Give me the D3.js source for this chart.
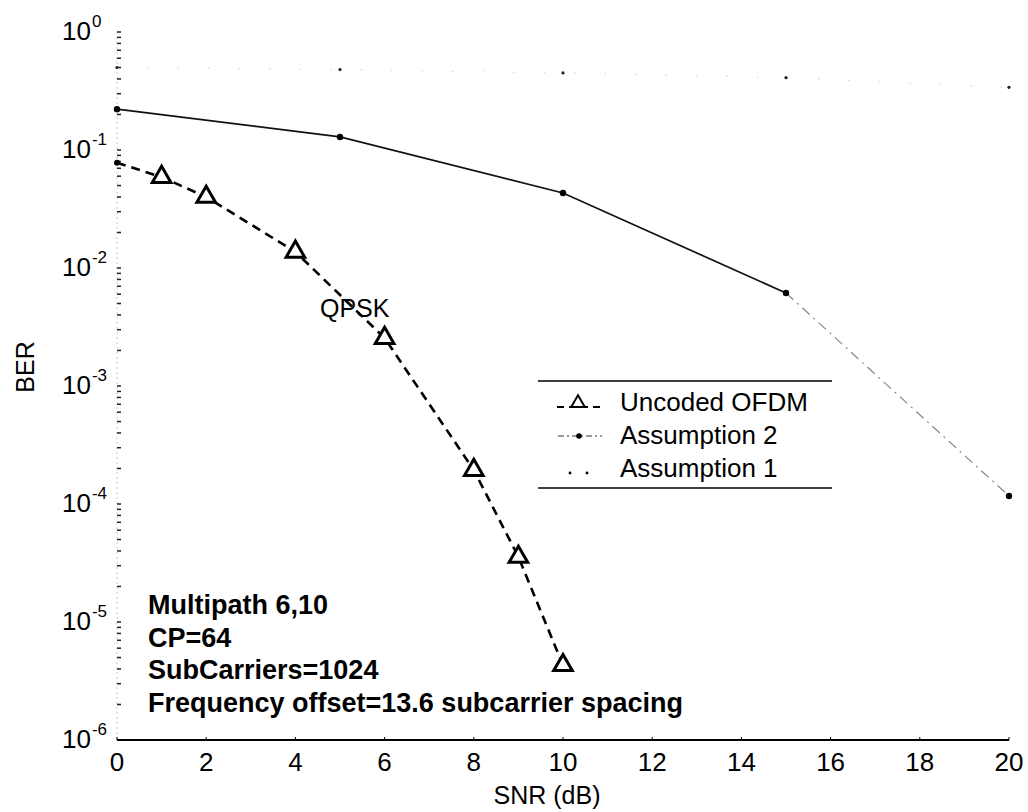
<!DOCTYPE html>
<html>
<head>
<meta charset="utf-8">
<script src="https://cdn.jsdelivr.net/npm/d3@7"></script>
<style>
  body { margin: 0; background: #fff; }
  text { font-family: "Liberation Sans", Arial, sans-serif; fill: #000; }
</style>
</head>
<body>
<div id="chart-container"></div>
<script>
// data
const snrUncoded = [0, 1, 2, 4, 6, 8, 9, 10];
const berUncoded = [0.078, 0.059, 0.040, 0.0137, 0.00255, 1.94e-4, 3.56e-5, 4.3e-6];

const snrAssumption = [0, 5, 10, 15, 20];
const berAssumption2 = [0.222, 0.129, 0.0432, 0.00614, 1.17e-4];
const berAssumption1 = [0.5, 0.48, 0.45, 0.41, 0.34];

const xTicks = [0, 2, 4, 6, 8, 10, 12, 14, 16, 18, 20];
const yExponents = [0, -1, -2, -3, -4, -5, -6];

const legendLabels = ["Uncoded OFDM", "Assumption 2", "Assumption 1"];
const notes = [
  "Multipath 6,10",
  "CP=64",
  "SubCarriers=1024",
  "Frequency offset=13.6 subcarrier spacing",
];

const width = 1028;
const height = 812;

const svg = d3
  .select("#chart-container")
  .append("svg")
  .attr("width", width)
  .attr("height", height);

// scales
const x = d3.scaleLinear().domain([0, 20]).range([117, 1009]);
const y = d3.scaleLog().domain([1, 1e-6]).range([32, 740]);

//#region AXES
// y axis line (very faint in the scan) + log ticks
svg
  .append("line")
  .attr("x1", x(0))
  .attr("x2", x(0))
  .attr("y1", y(1))
  .attr("y2", y(1e-6))
  .attr("stroke", "#c8c8c8")
  .attr("stroke-width", 1)
  .attr("stroke-dasharray", "2,3");

svg
  .selectAll(".ytick")
  .data(y.ticks())
  .enter()
  .append("line")
  .attr("x1", x(0))
  .attr("x2", x(0) + 4)
  .attr("y1", (d) => y(d))
  .attr("y2", (d) => y(d))
  .attr("stroke", "#222")
  .attr("stroke-width", 1.5);

// y tick labels 10^k
const yLab = svg
  .selectAll(".ylab")
  .data(yExponents)
  .enter()
  .append("text")
  .attr("x", 62)
  .attr("y", (d) => y(Math.pow(10, d)) + 8)
  .style("font-size", "26px");
yLab.append("tspan").text("10");
yLab
  .append("tspan")
  .attr("dy", -13)
  .attr("dx", 1)
  .style("font-size", "17px")
  .text((d) => d);

// x axis
svg
  .append("line")
  .attr("x1", x(0))
  .attr("x2", x(20))
  .attr("y1", y(1e-6))
  .attr("y2", y(1e-6))
  .attr("stroke", "#000")
  .attr("stroke-width", 2);

svg
  .selectAll(".xtick")
  .data(xTicks)
  .enter()
  .append("line")
  .attr("x1", (d) => x(d))
  .attr("x2", (d) => x(d))
  .attr("y1", y(1e-6))
  .attr("y2", y(1e-6) - 3)
  .attr("stroke", "#000")
  .attr("stroke-width", 1);

svg
  .selectAll(".xlab")
  .data(xTicks)
  .enter()
  .append("text")
  .attr("x", (d) => x(d))
  .attr("y", y(1e-6) + 31)
  .attr("text-anchor", "middle")
  .style("font-size", "26px")
  .text((d) => d);

svg
  .append("text")
  .attr("x", 547)
  .attr("y", 804)
  .attr("text-anchor", "middle")
  .style("font-size", "25px")
  .text("SNR (dB)");

svg
  .append("text")
  .attr("transform", "translate(34,367) rotate(-90)")
  .attr("text-anchor", "middle")
  .style("font-size", "25px")
  .text("BER");
//#endregion

//#region SERIES
const line = d3
  .line()
  .x((d) => x(d[0]))
  .y((d) => y(d[1]));

const uncoded = d3.zip(snrUncoded, berUncoded);
const assump2 = d3.zip(snrAssumption, berAssumption2);
const assump1 = d3.zip(snrAssumption, berAssumption1);

// Assumption 1 : dotted, almost vanished in the scan
svg
  .append("path")
  .attr("d", line(assump1))
  .attr("fill", "none")
  .attr("stroke", "#d4d4d4")
  .attr("stroke-width", 1.2)
  .attr("stroke-linecap", "round")
  .attr("stroke-dasharray", "0.5,30");

svg
  .selectAll(".a1dot")
  .data(assump1)
  .enter()
  .append("circle")
  .attr("cx", (d) => x(d[0]))
  .attr("cy", (d) => y(d[1]))
  .attr("r", 1.6)
  .attr("fill", "#222");

// Assumption 2 : solid up to 15 dB, then faint dash-dot
svg
  .append("path")
  .attr("d", line(assump2.slice(0, 4)))
  .attr("fill", "none")
  .attr("stroke", "#111")
  .attr("stroke-width", 1.7);

svg
  .append("path")
  .attr("d", line(assump2.slice(3)))
  .attr("fill", "none")
  .attr("stroke", "#888")
  .attr("stroke-width", 1.2)
  .attr("stroke-dasharray", "10,5,2,5");

svg
  .selectAll(".a2dot")
  .data(assump2)
  .enter()
  .append("circle")
  .attr("cx", (d) => x(d[0]))
  .attr("cy", (d) => y(d[1]))
  .attr("r", 3.2)
  .attr("fill", "#000");

// Uncoded OFDM : dashed with open triangles
svg
  .append("path")
  .attr("d", line(uncoded))
  .attr("fill", "none")
  .attr("stroke", "#000")
  .attr("stroke-width", 2.6)
  .attr("stroke-dasharray", "9,6");

const tri = d3.symbol().type(d3.symbolTriangle).size(150);
svg
  .selectAll(".tri")
  .data(uncoded.filter((d) => d[0] > 0))
  .enter()
  .append("path")
  .attr("d", tri)
  .attr("transform", (d) => `translate(${x(d[0])},${y(d[1])})`)
  .attr("fill", "#fff")
  .attr("stroke", "#000")
  .attr("stroke-width", 3);

svg
  .append("circle")
  .attr("cx", x(uncoded[0][0]))
  .attr("cy", y(uncoded[0][1]))
  .attr("r", 3)
  .attr("fill", "#000");

svg
  .append("text")
  .attr("x", 320)
  .attr("y", 317)
  .style("font-size", "25px")
  .text("QPSK");
//#endregion

//#region LEGEND
const lg = { x0: 538, x1: 832, top: 381, bottom: 488 };
[lg.top, lg.bottom].forEach((ly) => {
  svg
    .append("line")
    .attr("x1", lg.x0)
    .attr("x2", lg.x1)
    .attr("y1", ly)
    .attr("y2", ly)
    .attr("stroke", "#000")
    .attr("stroke-width", 1.6);
});

const rowY = [403, 436, 469];
svg
  .selectAll(".lgtext")
  .data(legendLabels)
  .enter()
  .append("text")
  .attr("x", 620)
  .attr("y", (d, i) => rowY[i] + 8)
  .style("font-size", "26px")
  .text((d) => d);

// sample 1: dashed + triangle
svg
  .append("line")
  .attr("x1", 557)
  .attr("x2", 600)
  .attr("y1", rowY[0] + 4)
  .attr("y2", rowY[0] + 4)
  .attr("stroke", "#000")
  .attr("stroke-width", 2)
  .attr("stroke-dasharray", "7,5");
svg
  .append("path")
  .attr("d", d3.symbol().type(d3.symbolTriangle).size(80))
  .attr("transform", `translate(578,${rowY[0]})`)
  .attr("fill", "#fff")
  .attr("stroke", "#000")
  .attr("stroke-width", 2);

// sample 2: dash-dot + dot
svg
  .append("line")
  .attr("x1", 558)
  .attr("x2", 602)
  .attr("y1", rowY[1])
  .attr("y2", rowY[1])
  .attr("stroke", "#333")
  .attr("stroke-width", 1)
  .attr("stroke-dasharray", "6,3,2,3");
svg
  .append("circle")
  .attr("cx", 579)
  .attr("cy", rowY[1])
  .attr("r", 2.8)
  .attr("fill", "#000");

// sample 3: dotted
svg
  .selectAll(".lgdot")
  .data([570, 587])
  .enter()
  .append("circle")
  .attr("cx", (d) => d)
  .attr("cy", rowY[2] + 4)
  .attr("r", 1.4)
  .attr("fill", "#000");
//#endregion

//#region NOTES
svg
  .selectAll(".note")
  .data(notes)
  .enter()
  .append("text")
  .attr("x", 148)
  .attr("y", (d, i) => 614 + i * 32.5)
  .style("font-size", "27px")
  .style("font-weight", "bold")
  .style("letter-spacing", "0px")
  .text((d) => d);
//#endregion
</script>
</body>
</html>
